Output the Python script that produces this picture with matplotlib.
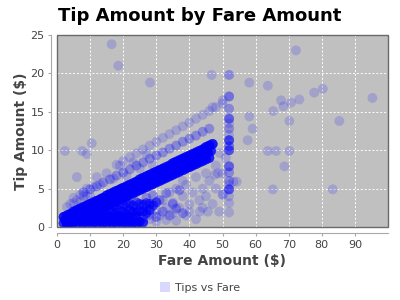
import numpy as np
import matplotlib
matplotlib.use("Agg")
import matplotlib.pyplot as plt
from matplotlib.lines import Line2D
from matplotlib.patches import Rectangle

# ---------------- data: fare ($), tip ($), trips at that location ----------------
# main dense band (upper edge)
coreA_fare = [2, 3, 4, 5, 6, 7, 8, 9, 10, 11, 12, 13, 14, 15, 16, 17, 18, 19, 20, 21,
              22, 23, 24, 25, 26, 27, 28, 29, 30, 31, 32, 33, 34, 35, 36, 37, 38, 39, 40, 41,
              42, 43, 44, 45, 46, 47]
coreA_tip = [1.3, 1.5, 1.7, 2.0, 2.2, 2.4, 2.6, 2.8, 3.0, 3.2, 3.4, 3.6, 3.8, 4.1, 4.3, 4.5, 4.7, 4.9, 5.1, 5.3,
             5.5, 5.7, 5.9, 6.2, 6.4, 6.6, 6.8, 7.0, 7.2, 7.4, 7.6, 7.8, 8.0, 8.3, 8.5, 8.7, 8.9, 9.1, 9.3, 9.5,
             9.7, 9.9, 10.1, 10.4, 10.6, 10.8]
coreA_trips = 12

# main dense band (middle)
coreC_fare = [2.5, 3.5, 4.5, 5.5, 6.5, 7.5, 8.5, 9.5, 10.5, 11.5, 12.5, 13.5, 14.5, 15.5, 16.5, 17.5,
              18.5, 19.5, 20.5, 21.5, 22.5, 23.5, 24.5, 25.5, 26.5, 27.5, 28.5, 29.5, 30.5, 31.5,
              32.5, 33.5, 34.5, 35.5, 36.5, 37.5, 38.5, 39.5, 40.5, 41.5, 42.5, 43.5, 44.5, 45.5, 46.5]
coreC_tip = [0.9, 1.1, 1.3, 1.5, 1.7, 1.9, 2.1, 2.3, 2.5, 2.7, 2.9, 3.1, 3.3, 3.5, 3.7, 3.9,
             4.1, 4.3, 4.6, 4.8, 5.0, 5.2, 5.4, 5.6, 5.8, 6.0, 6.2, 6.4, 6.6, 6.8,
             7.0, 7.2, 7.4, 7.6, 7.8, 8.0, 8.2, 8.4, 8.6, 8.9, 9.1, 9.3, 9.5, 9.7, 9.9]
coreC_trips = 10

# main dense band (lower edge)
coreB_fare = [3, 4, 5, 6, 7, 8, 9, 10, 11, 12, 13, 14, 15, 16, 17, 18, 19, 20, 21, 22,
              23, 24, 25, 26, 27, 28, 29, 30, 31, 32, 33, 34, 35, 36, 37, 38, 39, 40, 41, 42,
              43, 44, 45, 46]
coreB_tip = [0.4, 0.6, 0.8, 1.0, 1.2, 1.4, 1.6, 1.8, 2.0, 2.2, 2.4, 2.6, 2.8, 3.0, 3.2, 3.4, 3.6, 3.8, 4.0, 4.2,
             4.4, 4.6, 4.8, 5.0, 5.2, 5.4, 5.6, 5.8, 6.0, 6.2, 6.4, 6.6, 6.8, 7.0, 7.2, 7.4, 7.6, 7.8, 8.0, 8.2,
             8.4, 8.6, 8.8, 9.0]
coreB_trips = 10

# small tips on short and medium rides
low1_fare = [2, 3, 4, 5, 6, 7, 8, 9, 10, 11, 12, 13, 14, 15, 16, 17, 18, 19, 20, 21, 22, 23, 24, 25, 26]
low1_tip = [0.5, 0.6, 0.7, 0.6, 0.5, 0.7, 0.6, 0.5, 0.7, 0.6, 0.5, 0.7, 0.6, 0.5, 0.7, 0.6, 0.5, 0.7, 0.6,
            0.5, 0.7, 0.6, 0.5, 0.7, 0.6]
low1_trips = 8

low2_fare = [4, 5, 6, 7, 8, 9, 10, 11, 12, 13, 14, 15, 16, 17, 18, 19, 20, 21, 22, 23, 24]
low2_tip = [1.3, 1.2, 1.4, 1.3, 1.2, 1.4, 1.3, 1.2, 1.4, 1.3, 1.2, 1.4, 1.3, 1.2, 1.4, 1.3, 1.2, 1.4, 1.3,
            1.2, 1.4]
low2_trips = 6

low3_fare = [8, 9, 10, 11, 12, 13, 14, 15, 16, 17, 18, 19, 20, 21, 22, 23, 24, 25, 26, 27, 28]
low3_tip = [2.0, 1.9, 2.1, 2.0, 1.9, 2.1, 2.0, 1.8, 2.2, 2.0, 1.9, 2.1, 2.0, 1.8, 2.2, 2.0, 1.9, 2.1, 2.0,
            1.8, 2.2]
low3_trips = 6

low4_fare = [14, 15, 16, 17, 18, 19, 20, 21, 22, 23, 24, 25, 26, 27, 28, 29, 30]
low4_tip = [2.9, 3.1, 3.0, 2.8, 3.2, 3.0, 2.9, 3.1, 3.0, 2.8, 3.2, 3.0, 2.9, 3.1, 3.0, 2.8, 3.2]
low4_trips = 5

low5_fare = [26, 27, 28, 29, 30, 31, 32, 33, 34, 35, 36, 37, 38]
low5_tip = [1.2, 3.8, 1.6, 4.1, 1.3, 3.5, 2.0, 4.4, 1.5, 3.0, 2.4, 4.8, 1.8]
low5_trips = 2

# second band (~25 %)
band2_fare = [8, 10, 12, 14, 16, 18, 20, 22, 24, 26, 28, 30, 32, 34, 36, 38, 40, 42, 44, 46]
band2_tip = [4.5, 4.9, 5.3, 5.8, 6.2, 6.7, 7.1, 7.5, 8.0, 8.4, 8.9, 9.3, 9.7, 10.2, 10.6, 11.1, 11.5,
             11.9, 12.4, 12.8]
band2_trips = 2

# third band (~30 %)
band3_fare = [18, 20, 22, 24, 26, 28, 30, 32, 34, 36, 38, 40, 42, 44, 46, 48, 50]
band3_tip = [8.1, 8.6, 9.1, 9.6, 10.1, 10.6, 11.1, 11.6, 12.1, 12.6, 13.1, 13.6, 14.1, 14.6, 15.1, 15.6, 16.1]
band3_trips = 1

# halo of single trips around the short-ride wedge
halo_fare = [3, 4, 5, 5, 6, 7, 7, 8, 9, 9, 10, 11, 12, 13, 15, 17, 19, 21, 23, 25, 27, 29]
halo_tip = [2.6, 3.0, 3.1, 3.8, 3.5, 4.2, 3.3, 4.0, 4.0, 5.0, 4.0, 5.2, 6.5, 5.5, 7.0, 6.3, 8.0, 6.6, 8.4, 7.6,
            9.5, 8.0]

# scattered trips below the band for longer rides
below_fare = [22, 24, 26, 27, 28, 29, 30, 30, 31, 32, 33, 33, 34, 35, 35, 36, 36, 37, 38, 38, 39, 39,
              40, 40, 41, 42, 42, 43, 44, 44, 45, 45, 46, 47, 48, 48, 49, 50, 50, 51, 47.7, 48.6, 45.6]
below_tip = [0.5, 1.2, 0.8, 2.0, 1.0, 3.0, 0.7, 2.2, 1.5, 3.5, 0.9, 2.5, 4.5, 1.8, 3.2, 5.0, 0.8, 2.5,
             4.0, 6.0, 1.5, 5.5, 3.0, 2.0, 4.5, 6.5, 1.0, 3.5, 5.0, 2.5, 7.0, 4.0, 6.0, 3.0, 5.0, 8.0,
             2.0, 4.2, 7.0, 9.0, 6.8, 7.0, 2.0]

# JFK flat fare
jfk_fare = [52, 52, 52, 52, 52, 52, 52, 52, 52, 52, 52, 52, 52, 52, 52, 52, 52, 52]
jfk_tip = [1.9, 3.1, 4.0, 4.9, 5.5, 6.0, 7.1, 7.9, 10.0, 10.5, 11.3, 12.0, 12.8, 14.1, 15.4, 17.0, 19.8, 13.5]
jfk_trips = [1, 1, 1, 5, 1, 2, 2, 4, 5, 3, 6, 1, 2, 4, 2, 3, 2, 1]

# isolated trips
lone_fare = [16.5, 18.5, 28.1, 46.7, 58.1, 63.7, 72.2, 77.7, 80.3, 95.3, 67.7, 65.3, 68.4, 70.7,
             73.2, 70.2, 85.3, 58.1, 59.1, 57.6, 50.1, 47.0, 63.7, 66.2, 70.2, 68.7, 65.2, 83.3,
             2.4, 7.6, 9.0, 10.5, 6.0, 43.2, 54.3, 50.2, 49.2, 53.3]
lone_tip = [23.8, 21.0, 18.8, 19.8, 18.8, 18.4, 23.0, 17.5, 18.0, 16.8, 16.5, 15.1, 15.7, 16.2,
            16.6, 13.8, 13.8, 14.4, 12.8, 11.3, 16.5, 15.6, 9.9, 9.9, 9.9, 7.9, 4.9, 4.9,
            9.9, 9.9, 9.5, 10.9, 6.5, 2.0, 5.9, 4.2, 9.6, 5.9]

x_ticks = [0, 10, 20, 30, 40, 50, 60, 70, 80, 90]
y_ticks = [0, 5, 10, 15, 20, 25]

# ---------------- assemble ----------------
groups = [
    (coreA_fare, coreA_tip, coreA_trips),
    (coreC_fare, coreC_tip, coreC_trips),
    (coreB_fare, coreB_tip, coreB_trips),
    (low1_fare, low1_tip, low1_trips),
    (low2_fare, low2_tip, low2_trips),
    (low3_fare, low3_tip, low3_trips),
    (low4_fare, low4_tip, low4_trips),
    (low5_fare, low5_tip, low5_trips),
    (band2_fare, band2_tip, band2_trips),
    (band3_fare, band3_tip, band3_trips),
    (halo_fare, halo_tip, 1),
    (below_fare, below_tip, 1),
    (jfk_fare, jfk_tip, jfk_trips),
    (lone_fare, lone_tip, 1),
]
fare = np.concatenate([np.repeat(np.asarray(f, float), n) for f, t, n in groups])
tip = np.concatenate([np.repeat(np.asarray(t, float), n) for f, t, n in groups])

# ---------------- plot ----------------
plt.rcParams['font.family'] = ['DejaVu Sans']
fig = plt.figure(figsize=(4, 3), dpi=100)
ax = fig.add_axes([57 / 400, 1 - 227 / 300, (388 - 57) / 400, (227 - 35) / 300])
ax.set_facecolor('#c0c0c0')

ax.scatter(fare, tip, s=50, color='#0000ff', alpha=0.16, edgecolors='none', zorder=3)

ax.set_xlim(0, 100)
ax.set_ylim(0, 25)
ax.set_xticks(x_ticks)
ax.set_yticks(y_ticks)
ax.grid(True, color='white', linestyle=(0, (2, 2)), linewidth=0.7, zorder=1)
ax.set_axisbelow(True)

for side in ['top', 'right']:
    ax.spines[side].set_visible(False)
for side in ['left', 'bottom']:
    ax.spines[side].set_position(('outward', 4))
    ax.spines[side].set_color('#a8a8a8')
    ax.spines[side].set_linewidth(0.8)
ax.add_patch(Rectangle((0, 0), 1, 1, transform=ax.transAxes, fill=False,
                       edgecolor='#6a6a6a', linewidth=1.0, zorder=5, clip_on=False))

ax.tick_params(axis='both', direction='out', length=2.5, width=0.8, color='#a8a8a8',
               labelsize=8, labelcolor='#444444', pad=2.5)

ax.set_xlabel('Fare Amount ($)', fontsize=10, fontweight='bold', color='#444444', labelpad=3)
ax.set_ylabel('Tip Amount ($)', fontsize=10, fontweight='bold', color='#444444', labelpad=2)

fig.text(0.5, 1 - 21 / 300, 'Tip Amount by Fare Amount', ha='center', va='baseline',
         fontsize=13, fontweight='heavy', color='black')

handle = Line2D([], [], linestyle='none', marker='s', markersize=7, color='#0000ff',
                alpha=0.15, markeredgewidth=0)
fig.legend([handle], ['Tips vs Fare'], loc='center', bbox_to_anchor=(0.5, 1 - 288 / 300),
           frameon=False, fontsize=8, handlelength=1.0, handletextpad=0.4,
           labelcolor='#444444')

fig.savefig('out.png', dpi=100)
